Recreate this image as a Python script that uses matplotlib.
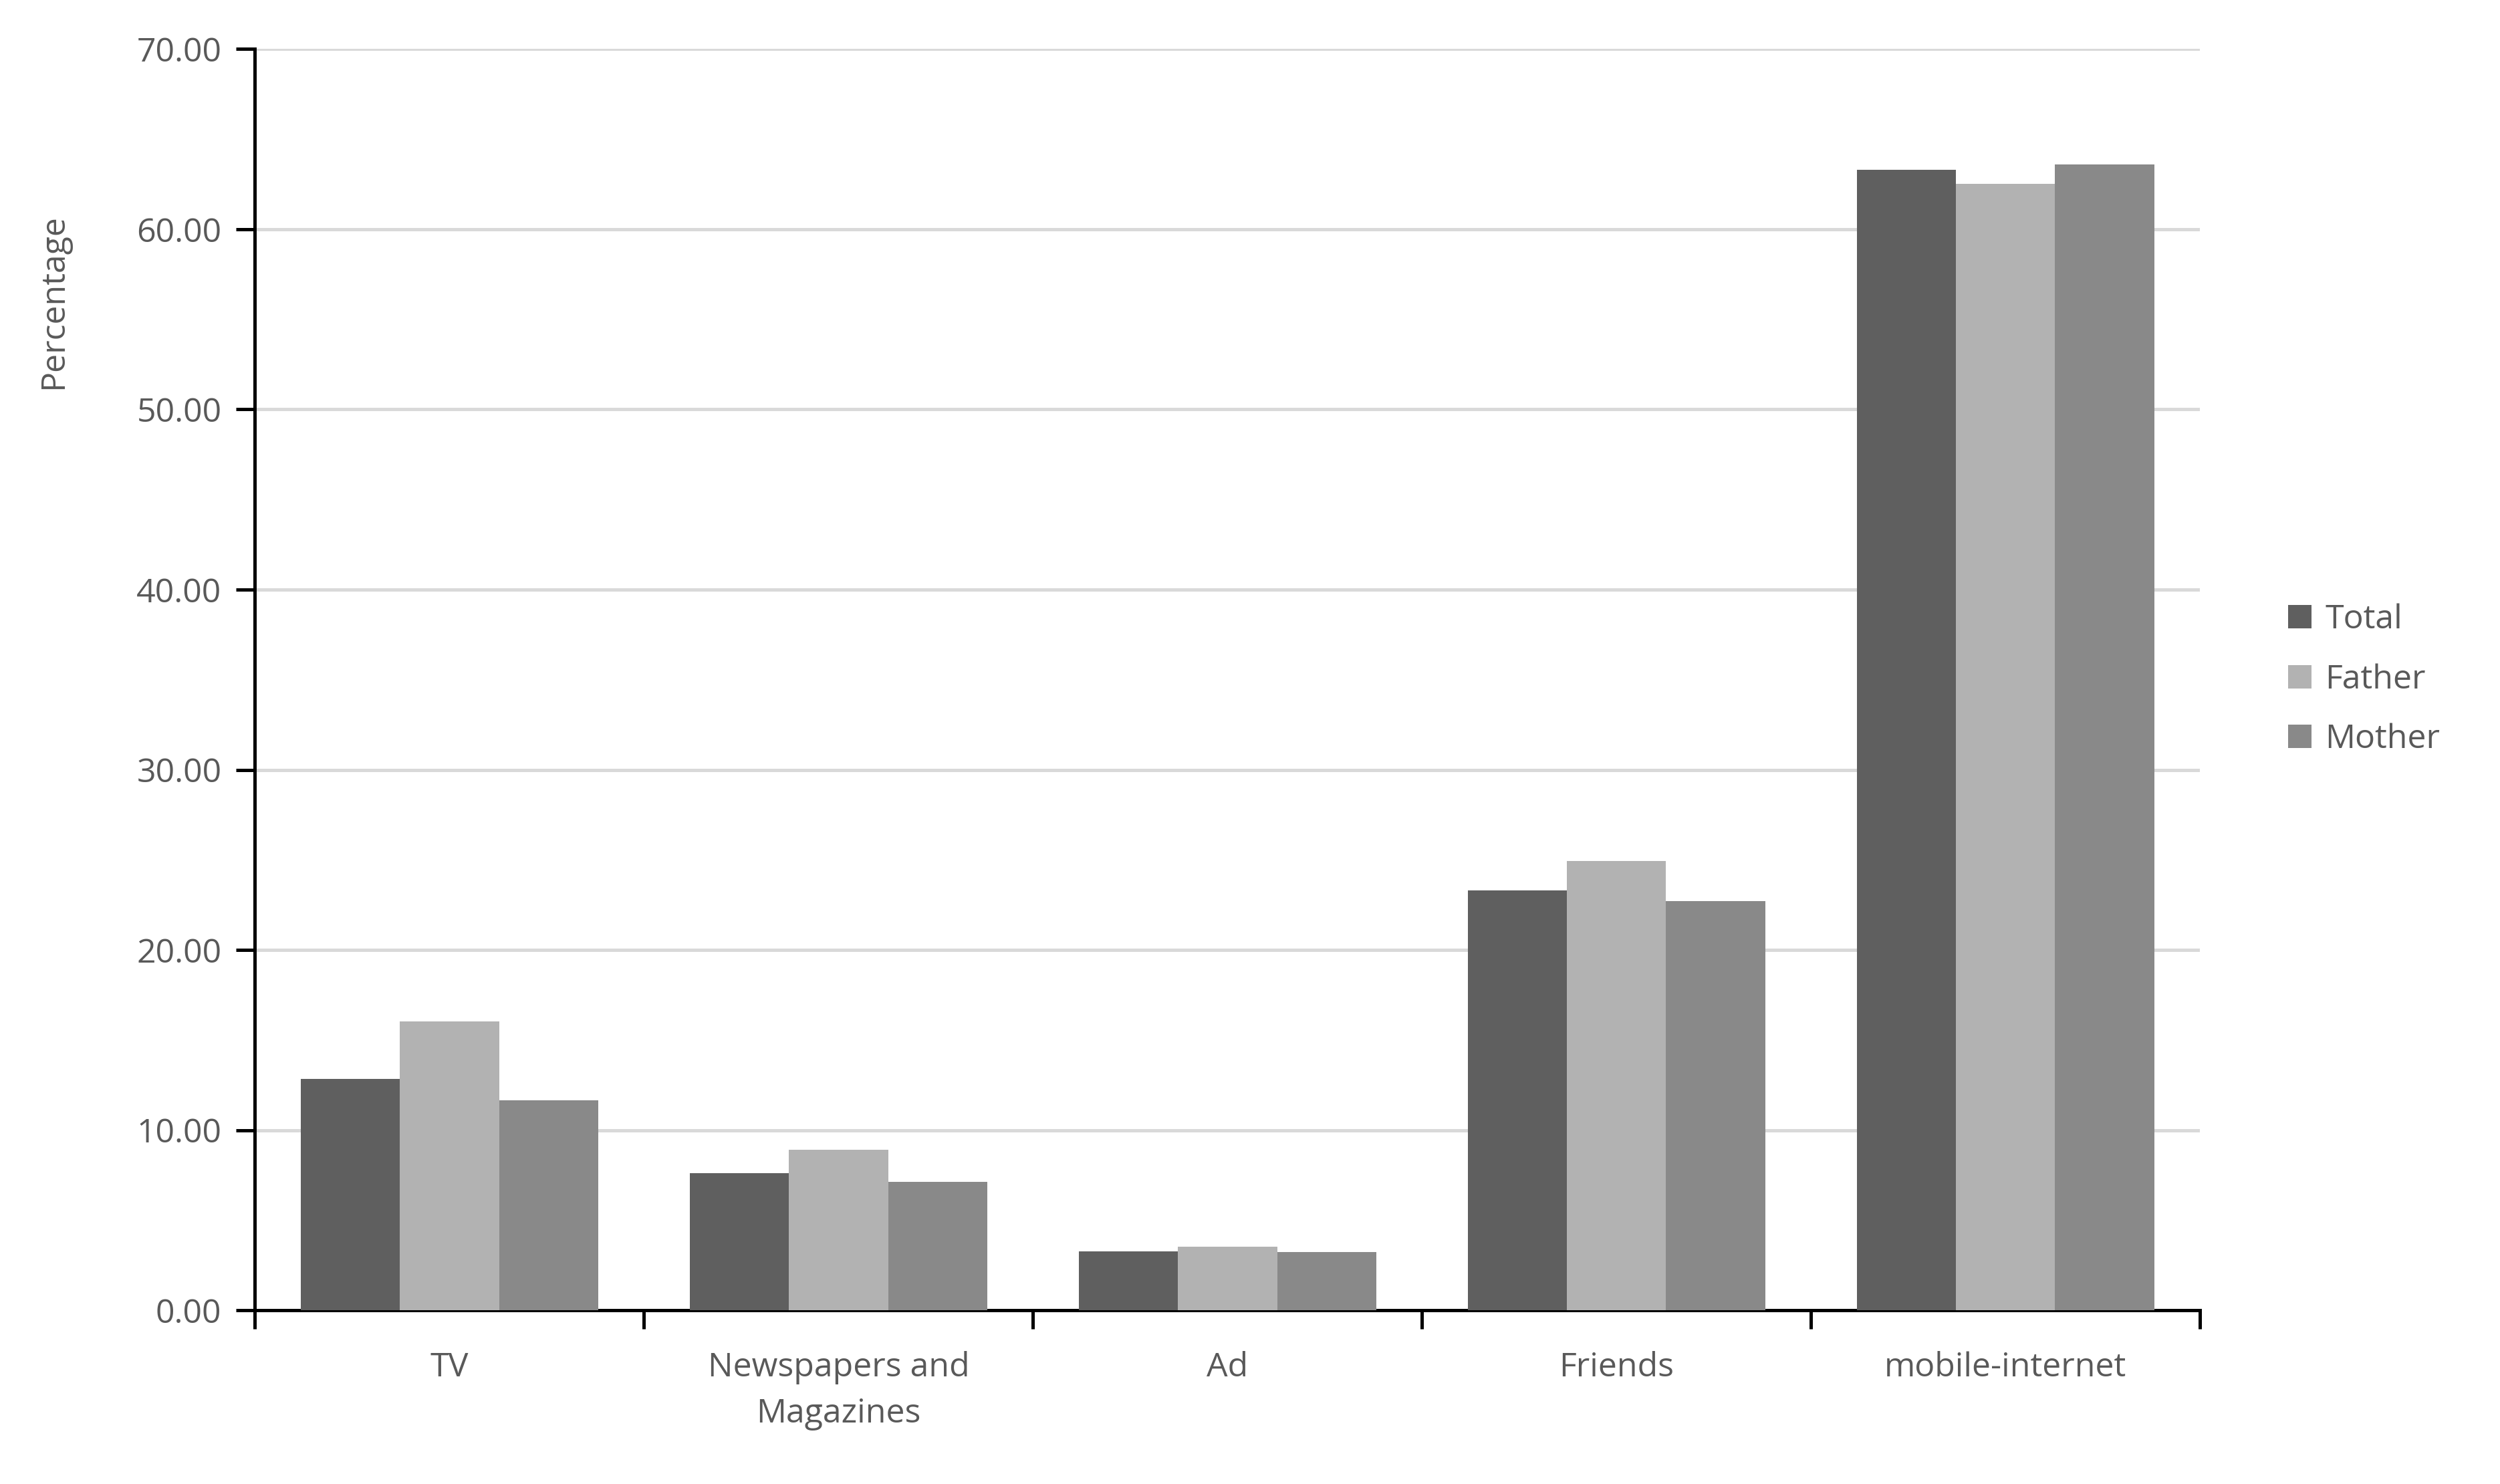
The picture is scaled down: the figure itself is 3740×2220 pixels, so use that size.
import numpy as np
import matplotlib.pyplot as plt

categories = ['TV', 'Newspapers and\nMagazines', 'Ad', 'Friends', 'mobile-internet']
series = ['Total', 'Father', 'Mother']
total = [12.84, 7.62, 3.28, 23.3, 63.3]
father = [16.05, 8.92, 3.55, 24.95, 62.5]
mother = [11.65, 7.12, 3.22, 22.7, 63.6]
colors = ['#5f5f5f', '#b2b2b2', '#898989']
TXT = '#595959'

plt.rcParams['font.family'] = ['Open Sans', 'DejaVu Sans']

fig = plt.figure(figsize=(18.7, 11.1), dpi=200)
ax = fig.add_axes([0.102, 0.117, 0.778, 0.85])

x = np.arange(len(categories))
w = 0.255
for i, (name, vals) in enumerate(zip(series, [total, father, mother])):
    ax.bar(x + (i - 1) * w, vals, w, color=colors[i], label=name, zorder=3)

ax.set_xlim(-0.5, len(categories) - 0.5)
ax.set_ylim(0, 70)
ax.set_yticks(np.arange(0, 71, 10))
ax.set_yticklabels([f'{v:.2f}' for v in np.arange(0, 71, 10)])
ax.yaxis.grid(True, color='#d9d9d9', lw=1.8, zorder=0)
ax.set_xticks(x)
ax.set_xticklabels(categories, linespacing=1.5)
ax.set_xticks(np.arange(-0.5, len(categories), 1), minor=True)
ax.tick_params(axis='x', which='major', length=0, pad=22, labelsize=18, colors=TXT)
ax.tick_params(axis='x', which='minor', length=10, width=1.8, direction='out', color='black')
ax.tick_params(axis='y', length=10, width=1.8, labelsize=18, colors=TXT, pad=8)
ax.tick_params(axis='y', color='black')
for s in ['top', 'right']:
    ax.spines[s].set_visible(False)
ax.spines['left'].set_linewidth(1.8)
ax.spines['bottom'].set_linewidth(1.8)
ax.set_ylabel('Percentage', fontsize=18, color=TXT, labelpad=10)
ax.yaxis.set_label_coords(-0.095, 0.8)

ax.legend(loc='center left', bbox_to_anchor=(1.03, 0.5), frameon=False, fontsize=18,
          labelcolor=TXT, handlelength=0.7, handleheight=0.7, labelspacing=0.8, handletextpad=0.4)

fig.savefig('out.png')
